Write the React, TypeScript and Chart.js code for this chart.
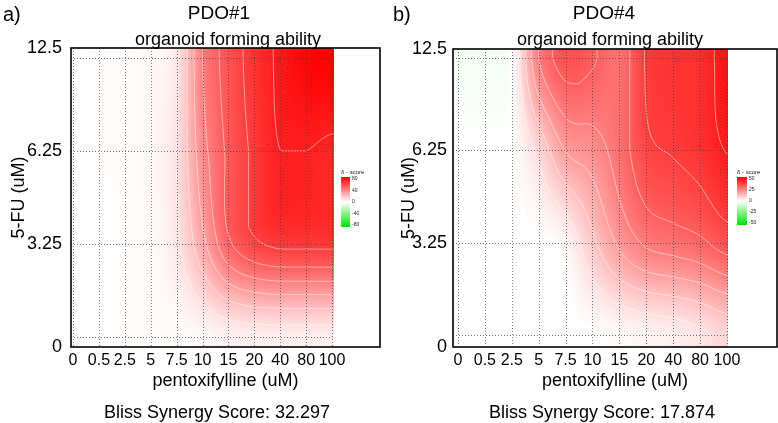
import { useEffect, useRef } from 'react';
import { Chart, registerables } from 'chart.js';

Chart.register(...registerables);

// ---------- data ----------
const pentoxifyllineDoses = ['0', '0.5', '2.5', '5', '7.5', '10', '15', '20', '40', '80', '100'];
const fluorouracilDoses = ['0', '3.25', '6.25', '12.5'];

// PDO#1 delta scores, one array per 5-FU dose (columns follow pentoxifyllineDoses)
const pdo1At0 = [0, 0, 1, 1, 1, 2, 4, 5, 5, 5, 5];
const pdo1At325 = [0, 0, 1, 1, 8, 27, 48, 58, 62, 62, 62];
const pdo1At625 = [0, 1, 1, 2, 10, 36, 52, 62, 70, 70, 68];
const pdo1At125 = [0, 1, 1, 2, 8, 40, 54, 64, 72, 78, 80];

// PDO#4 delta scores
const pdo4At0 = [0, 0, 0, 0, 0, 0, 1, 2, 3, 5, 8];
const pdo4At325 = [0, 0, 0, 0, 2, 11, 20, 26, 28, 30, 34];
const pdo4At625 = [0, 0, 0, 8, 19, 22, 28, 36, 38, 40, 44];
const pdo4At125 = [-2, -2, 0, 25, 34, 32, 28, 38, 40, 41, 46];

const pdo1LegendTicks = [80, 40, 0, -40, -80];
const pdo4LegendTicks = [50, 25, 0, -25, -50];
const blissScores = ['32.297', '17.874'];

// ---------- helpers ----------
const FONT = "'Liberation Sans', Arial, Helvetica, sans-serif";

function cr(p0: number, p1: number, p2: number, p3: number, t: number) {
  const v =
    0.5 *
    (2 * p1 +
      (-p0 + p2) * t +
      (2 * p0 - 5 * p1 + 4 * p2 - p3) * t * t +
      (-p0 + 3 * p1 - 3 * p2 + p3) * t * t * t);
  const lo = Math.min(p1, p2);
  const hi = Math.max(p1, p2);
  return Math.max(lo, Math.min(hi, v));
}

function sampleScores(rows: number[][], u: number, w: number) {
  const nr = rows.length;
  const nc = rows[0].length;
  const cu = Math.max(0, Math.min(nc - 1, u));
  const cw = Math.max(0, Math.min(nr - 1, w));
  const i = Math.min(nc - 2, Math.floor(cu));
  const t = cu - i;
  const j = Math.min(nr - 2, Math.floor(cw));
  const s = cw - j;
  const col = (k: number) => Math.max(0, Math.min(nc - 1, k));
  const row = (k: number) => Math.max(0, Math.min(nr - 1, k));
  const rv = [-1, 0, 1, 2].map((d) => {
    const r = rows[row(j + d)];
    return cr(r[col(i - 1)], r[i], r[i + 1], r[col(i + 2)], t);
  });
  return cr(rv[0], rv[1], rv[2], rv[3], s);
}

function scoreColor(v: number, limit: number): [number, number, number] {
  const t = Math.max(-1, Math.min(1, v / limit));
  if (t >= 0) {
    const k = 255 * (1 - t);
    return [255, k, k];
  }
  const k = 255 * (1 + t);
  return [k, 255 - 30 * -t, k];
}

const heatmapPlugin = {
  id: 'synergyHeatmap',
  beforeDatasetsDraw(chart: any, _args: any, opts: any) {
    const { ctx, chartArea: a, scales } = chart;
    const xs = scales.x;
    const ys = scales.y;
    const rows: number[][] = opts.rows;
    const nc = rows[0].length;
    const x0 = Math.floor(a.left);
    const x1 = Math.round(xs.getPixelForValue(nc - 1) + 1.5);
    const y0 = Math.floor(a.top);
    const y1 = Math.ceil(a.bottom);
    const W = x1 - x0;
    const H = y1 - y0;
    const off = document.createElement('canvas');
    off.width = W;
    off.height = H;
    const octx = off.getContext('2d')!;
    const img = octx.createImageData(W, H);
    const us: number[] = [];
    for (let px = 0; px < W; px++) us.push(xs.getValueForPixel(x0 + px + 0.5));
    for (let py = 0; py < H; py++) {
      const w = ys.getValueForPixel(y0 + py + 0.5);
      for (let px = 0; px < W; px++) {
        const v = sampleScores(rows, us[px], w);
        const [r, g, b] = scoreColor(v, opts.limit);
        const k = (py * W + px) * 4;
        img.data[k] = r;
        img.data[k + 1] = g;
        img.data[k + 2] = b;
        img.data[k + 3] = 255;
      }
    }
    octx.putImageData(img, 0, 0);
    ctx.save();
    ctx.beginPath();
    ctx.rect(a.left, a.top, a.right - a.left, a.bottom - a.top);
    ctx.clip();
    ctx.drawImage(off, x0, y0);

    // contour lines (marching squares over the interpolated surface)
    const step = 2;
    const nx = Math.ceil(W / step) + 1;
    const ny = Math.ceil(H / step) + 1;
    const field: number[][] = [];
    for (let j = 0; j < ny; j++) {
      const w = ys.getValueForPixel(y0 + j * step);
      const line: number[] = [];
      for (let i = 0; i < nx; i++) line.push(sampleScores(rows, xs.getValueForPixel(x0 + i * step), w));
      field.push(line);
    }
    ctx.strokeStyle = 'rgba(255,255,255,0.5)';
    ctx.lineWidth = 0.9;
    ctx.beginPath();
    const levels: number[] = [];
    for (let L = opts.contourStep; L < opts.limit; L += opts.contourStep) levels.push(L);
    for (const L of levels) {
      for (let j = 0; j < ny - 1; j++) {
        for (let i = 0; i < nx - 1; i++) {
          const tl = field[j][i];
          const tr = field[j][i + 1];
          const br = field[j + 1][i + 1];
          const bl = field[j + 1][i];
          const idx = (tl > L ? 8 : 0) | (tr > L ? 4 : 0) | (br > L ? 2 : 0) | (bl > L ? 1 : 0);
          if (idx === 0 || idx === 15) continue;
          const X = x0 + i * step;
          const Y = y0 + j * step;
          const top = () => [X + (step * (L - tl)) / (tr - tl), Y];
          const bottom = () => [X + (step * (L - bl)) / (br - bl), Y + step];
          const left = () => [X, Y + (step * (L - tl)) / (bl - tl)];
          const right = () => [X + step, Y + (step * (L - tr)) / (br - tr)];
          const segs: Record<number, (() => number[])[][]> = {
            1: [[left, bottom]], 2: [[bottom, right]], 3: [[left, right]], 4: [[top, right]],
            5: [[left, top], [bottom, right]], 6: [[top, bottom]], 7: [[left, top]], 8: [[left, top]],
            9: [[top, bottom]], 10: [[left, bottom], [top, right]], 11: [[top, right]], 12: [[left, right]],
            13: [[bottom, right]], 14: [[left, bottom]],
          };
          for (const [p, q] of segs[idx]) {
            const P = p();
            const Q = q();
            ctx.moveTo(P[0], P[1]);
            ctx.lineTo(Q[0], Q[1]);
          }
        }
      }
    }
    ctx.stroke();
    ctx.restore();
  },
  afterDatasetsDraw(chart: any, _args: any, opts: any) {
    const { ctx, chartArea: a, scales } = chart;
    const xs = scales.x;
    const ys = scales.y;
    const nc = opts.rows[0].length;
    const nr = opts.rows.length;
    const xEnd = xs.getPixelForValue(nc - 1);
    ctx.save();
    ctx.strokeStyle = 'rgba(60,60,60,0.7)';
    ctx.lineWidth = 1;
    ctx.setLineDash([1, 2]);
    ctx.beginPath();
    for (let c = 0; c < nc; c++) {
      const px = Math.round(xs.getPixelForValue(c)) + 0.5;
      ctx.moveTo(px, a.top);
      ctx.lineTo(px, a.bottom);
    }
    for (let r = 0; r < nr; r++) {
      const py = Math.round(ys.getPixelForValue(r)) + 0.5;
      ctx.moveTo(a.left, py);
      ctx.lineTo(xEnd, py);
    }
    ctx.stroke();
    ctx.setLineDash([]);

    // box
    ctx.strokeStyle = '#000';
    ctx.lineWidth = 1.6;
    ctx.strokeRect(a.left, a.top, a.right - a.left, a.bottom - a.top);

    // colour legend
    const L = opts.legend;
    const lx = xEnd + L.gap;
    const grad = ctx.createLinearGradient(0, L.top, 0, L.top + L.height);
    for (let k = 0; k <= 10; k++) {
      const v = opts.limit - (2 * opts.limit * k) / 10;
      const [r, g, b] = scoreColor(v, opts.limit);
      grad.addColorStop(k / 10, `rgb(${r},${g},${b})`);
    }
    ctx.fillStyle = grad;
    ctx.fillRect(lx, L.top, L.width, L.height);
    ctx.fillStyle = '#222';
    ctx.font = `6px ${FONT}`;
    ctx.textAlign = 'left';
    ctx.textBaseline = 'alphabetic';
    ctx.fillText('\u03b4 - score', lx, L.top - 3);
    ctx.font = `5px ${FONT}`;
    ctx.textBaseline = 'middle';
    const ticks: number[] = opts.legendTicks;
    ticks.forEach((t, k) => {
      const py = L.top + 2 + (k * (L.height - 4)) / (ticks.length - 1);
      ctx.fillText(String(t), lx + L.width + 2, py);
    });
    ctx.restore();
  },
  afterDraw(chart: any, _args: any, opts: any) {
    const { ctx } = chart;
    const T = opts.text;
    ctx.save();
    ctx.fillStyle = '#000';
    ctx.textBaseline = 'alphabetic';
    ctx.textAlign = 'left';
    ctx.font = `20px ${FONT}`;
    ctx.fillText(opts.letter, 3, 21);
    ctx.textAlign = 'center';
    ctx.font = `19px ${FONT}`;
    ctx.fillText(opts.title, T.titleX, 19);
    ctx.font = `18px ${FONT}`;
    ctx.fillText(opts.subtitle, T.subtitleX, 45);
    ctx.fillText(opts.score, T.scoreX, 418);
    ctx.restore();
  },
};

function buildConfig(p: any): any {
  const data: { x: number; y: number }[] = [];
  p.rows.forEach((r: number[], ri: number) => r.forEach((_v, ci) => data.push({ x: ci, y: ri })));
  return {
    type: 'scatter',
    data: { datasets: [{ data, pointRadius: 0, pointHoverRadius: 0, showLine: false }] },
    plugins: [heatmapPlugin],
    options: {
      responsive: false,
      animation: false,
      devicePixelRatio: 1,
      events: [],
      layout: { padding: { top: p.box.top, left: 0, right: p.box.right, bottom: 26 } },
      plugins: {
        legend: { display: false },
        tooltip: { enabled: false },
        synergyHeatmap: {
          rows: p.rows,
          limit: p.limit,
          contourStep: p.contourStep,
          legendTicks: p.legendTicks,
          legend: p.legend,
          letter: p.letter,
          title: p.title,
          subtitle: 'organoid forming ability',
          score: `Bliss Synergy Score: ${p.score}`,
          text: p.text,
        },
      },
      scales: {
        x: {
          type: 'linear',
          min: p.box.xMin,
          max: p.box.xMax,
          grid: { display: false, drawTicks: false },
          border: { display: false },
          afterBuildTicks: (s: any) => {
            s.ticks = pentoxifyllineDoses.map((_d, i) => ({ value: i }));
          },
          afterFit: (s: any) => {
            s.height = 50;
          },
          ticks: {
            autoSkip: false,
            maxRotation: 0,
            minRotation: 0,
            padding: 4,
            color: '#000',
            font: { family: FONT, size: 16 },
            callback: (_v: any, i: number) => pentoxifyllineDoses[i],
          },
          title: {
            display: true,
            text: 'pentoxifylline (uM)',
            color: '#000',
            font: { family: FONT, size: 18 },
            padding: { top: 0, bottom: 5 },
          },
        },
        y: {
          type: 'linear',
          min: p.box.yMin,
          max: p.box.yMax,
          grid: { display: false, drawTicks: false },
          border: { display: false },
          afterBuildTicks: (s: any) => {
            s.ticks = [p.box.yMin, 1, 2, p.box.yMax].map((v) => ({ value: v }));
          },
          afterFit: (s: any) => {
            s.width = p.box.yWidth;
          },
          ticks: {
            autoSkip: false,
            padding: p.box.tickPad,
            color: '#000',
            font: { family: FONT, size: 18 },
            callback: (_v: any, i: number) => fluorouracilDoses[i],
          },
          title: {
            display: true,
            text: '5-FU (uM)',
            color: '#000',
            font: { family: FONT, size: 18 },
            padding: { top: 8, bottom: 0 },
          },
        },
      },
    },
  };
}

const pdo1Panel = {
  letter: 'a)',
  title: 'PDO#1',
  score: blissScores[0],
  rows: [pdo1At0, pdo1At325, pdo1At625, pdo1At125],
  limit: 80,
  contourStep: 10,
  legendTicks: pdo1LegendTicks,
  box: { top: 48, right: 10, yWidth: 71, xMin: -0.077, xMax: 11.85, yMin: -0.1075, yMax: 3.1075, tickPad: 9 },
  legend: { gap: 9, width: 9, top: 177, height: 50 },
  text: { titleX: 219, subtitleX: 228, scoreX: 217 },
};

const pdo4Panel = {
  letter: 'b)',
  title: 'PDO#4',
  score: blissScores[1],
  rows: [pdo4At0, pdo4At325, pdo4At625, pdo4At125],
  limit: 50,
  contourStep: 6.25,
  legendTicks: pdo4LegendTicks,
  box: { top: 49, right: 1, yWidth: 63, xMin: -0.186, xMax: 11.86, yMin: -0.13, yMax: 3.0975, tickPad: 6 },
  legend: { gap: 10, width: 10, top: 177, height: 48 },
  text: { titleX: 214, subtitleX: 220, scoreX: 212 },
};

export default function App() {
  const leftRef = useRef<HTMLCanvasElement>(null);
  const rightRef = useRef<HTMLCanvasElement>(null);
  useEffect(() => {
    const c1 = new Chart(leftRef.current!, buildConfig(pdo1Panel));
    const c2 = new Chart(rightRef.current!, buildConfig(pdo4Panel));
    return () => {
      c1.destroy();
      c2.destroy();
    };
  }, []);
  return (
    <div style={{ position: 'absolute', left: 0, top: 0, width: 778, height: 423, background: '#fff' }}>
      <canvas
        ref={leftRef}
        width={390}
        height={423}
        style={{ position: 'absolute', left: 0, top: 0, width: 390, height: 423 }}
      />
      <canvas
        ref={rightRef}
        width={388}
        height={423}
        style={{ position: 'absolute', left: 390, top: 0, width: 388, height: 423 }}
      />
    </div>
  );
}
